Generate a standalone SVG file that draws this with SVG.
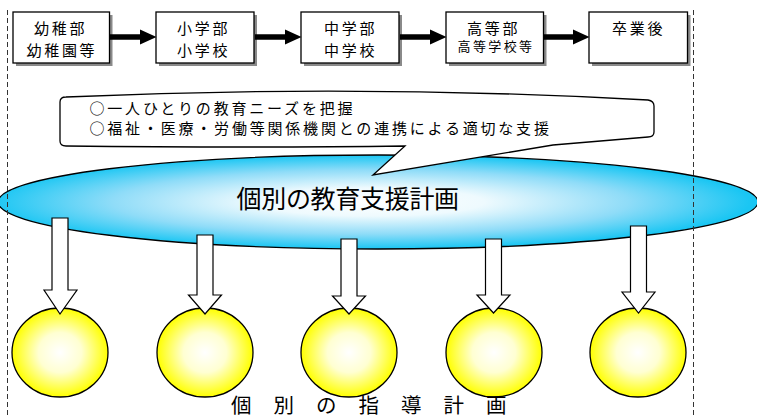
<svg xmlns="http://www.w3.org/2000/svg" width="757" height="416" viewBox="0 0 757 416">
<style>
.box{fill:#fff;stroke:#000;stroke-width:1.3}
.shadow{fill:#8a8a8a}
.t{font-family:"Noto Sans CJK JP","Noto Sans CJK SC",sans-serif;fill:#000}
.bt{font-size:15px;letter-spacing:2.7px}
.ct{font-size:15px;letter-spacing:2.8px}
.dash{stroke:#333;stroke-width:1;stroke-dasharray:5 3;fill:none}
.shaft{stroke:#000;stroke-width:5.5;fill:none}
.head{fill:#000}
.down{fill:#fff;stroke:#000;stroke-width:1.2;stroke-linejoin:miter}
.circ{fill:url(#gy);stroke:#000;stroke-width:1.3}
</style>
<defs>
<radialGradient id="gb" cx="0.49" cy="0.5" r="0.5">
<stop offset="0" stop-color="#ffffff"/>
<stop offset="0.3" stop-color="#eefafe"/>
<stop offset="0.68" stop-color="#8fdcf8"/>
<stop offset="1" stop-color="#1ac6f3"/>
</radialGradient>
<radialGradient id="gy" cx="0.5" cy="0.5" r="0.5">
<stop offset="0" stop-color="#ffffff"/>
<stop offset="0.45" stop-color="#ffffd2"/>
<stop offset="1" stop-color="#ffff00"/>
</radialGradient>
</defs>
<rect width="757" height="416" fill="#fff"/>

<g id="node-youchibu">
<rect class="shadow" x="16" y="15" width="96.5" height="51"/>
<rect class="box" x="13" y="12" width="96.5" height="51"/>
<text class="t bt" x="34" y="34">幼稚部</text>
<text class="t bt" x="26.5" y="56">幼稚園等</text>
</g>
<g id="node-shougakubu">
<rect class="shadow" x="159" y="15" width="98" height="51"/>
<rect class="box" x="156" y="12" width="98" height="51"/>
<text class="t bt" x="177" y="34">小学部</text>
<text class="t bt" x="177" y="56">小学校</text>
</g>
<g id="node-chuugakubu">
<rect class="shadow" x="304" y="15" width="98" height="51"/>
<rect class="box" x="301" y="12" width="98" height="51"/>
<text class="t bt" x="324" y="34">中学部</text>
<text class="t bt" x="324" y="56">中学校</text>
</g>
<g id="node-koutoubu">
<rect class="shadow" x="449" y="15" width="97.5" height="51"/>
<rect class="box" x="446" y="12" width="97.5" height="51"/>
<text class="t bt" x="467" y="33.5">高等部</text>
<text class="t" x="457.5" y="51" font-size="13" letter-spacing="2.4">高等学校等</text>
</g>
<g id="node-sotsugyougo">
<rect class="shadow" x="592" y="15" width="98.5" height="51"/>
<rect class="box" x="589" y="12" width="98.5" height="51"/>
<text class="t bt" x="612" y="34">卒業後</text>
</g>

<g id="node-shien-keikaku">
<ellipse cx="378" cy="202" rx="380" ry="47" fill="url(#gb)" stroke="#000" stroke-width="1.3"/>
<text class="t" x="236.5" y="208" font-size="25" letter-spacing="-0.3" fill="#222">個別の教育支援計画</text>
</g>

<g id="node-callout">
<path d="M66,97 Q360,84 648,100 Q654,101 654,106 L654,132 Q654,137 648,137 Q600,141 553,145 L373,175 L405,146 Q250,148 66,146 Q60,146 60,141 L60,102 Q60,97 66,97 Z" fill="#fff" stroke="#000" stroke-width="1.3"/>
<text class="t ct" x="89.5" y="113.5" >○一人ひとりの教育ニーズを把握</text>
<text class="t ct" x="89.5" y="134">○福祉・医療・労働等関係機関との連携による適切な支援</text>
</g>

<g id="node-circle1"><ellipse class="circ" cx="60" cy="352.5" rx="48" ry="44.5"/></g>
<g id="node-circle2"><ellipse class="circ" cx="205" cy="352.5" rx="48" ry="44.5"/></g>
<g id="node-circle3"><ellipse class="circ" cx="349" cy="352.5" rx="48" ry="44.5"/></g>
<g id="node-circle4"><ellipse class="circ" cx="494" cy="352.5" rx="48" ry="44.5"/></g>
<g id="node-circle5"><ellipse class="circ" cx="638" cy="352.5" rx="48" ry="44.5"/></g>

<g id="label-shidou-keikaku">
<text class="t" font-size="20.5" fill="#222" y="413" x="231 252 273.5 295 316 337 358.5 380 401 422 443.5 465 486">個 別 の 指 導 計 画</text>
</g>

<g id="connectors">
<line class="shaft" x1="110" y1="37" x2="141" y2="37"/>
<polygon class="head" points="140,29.5 156.5,37 140,44.5"/>
<line class="shaft" x1="255" y1="37" x2="286" y2="37"/>
<polygon class="head" points="285,29.5 301.5,37 285,44.5"/>
<line class="shaft" x1="400" y1="37" x2="431" y2="37"/>
<polygon class="head" points="430,29.5 446.5,37 430,44.5"/>
<line class="shaft" x1="544" y1="37" x2="574" y2="37"/>
<polygon class="head" points="573,29.5 589.5,37 573,44.5"/>

<polygon class="down" points="52,218 68,218 68,290 77,290 60,314 44,290 52,290"/>
<polygon class="down" points="197,235 213,235 213,295 221.5,295 205,314 188.5,295 197,295"/>
<polygon class="down" points="341,239 357,239 357,296 365.5,296 349,314 332.5,296 341,296"/>
<polygon class="down" points="485.5,239 501.5,239 501.5,295 510,295 493.5,313 477,295 485.5,295"/>
<polygon class="down" points="630.5,226 646.5,226 646.5,292 655,292 638.5,313 622,292 630.5,292"/>
</g>

<g id="frame">
<line class="dash" x1="7.5" y1="10" x2="7.5" y2="416"/>
<line class="dash" x1="693.5" y1="10" x2="693.5" y2="416"/>
</g>
</svg>
